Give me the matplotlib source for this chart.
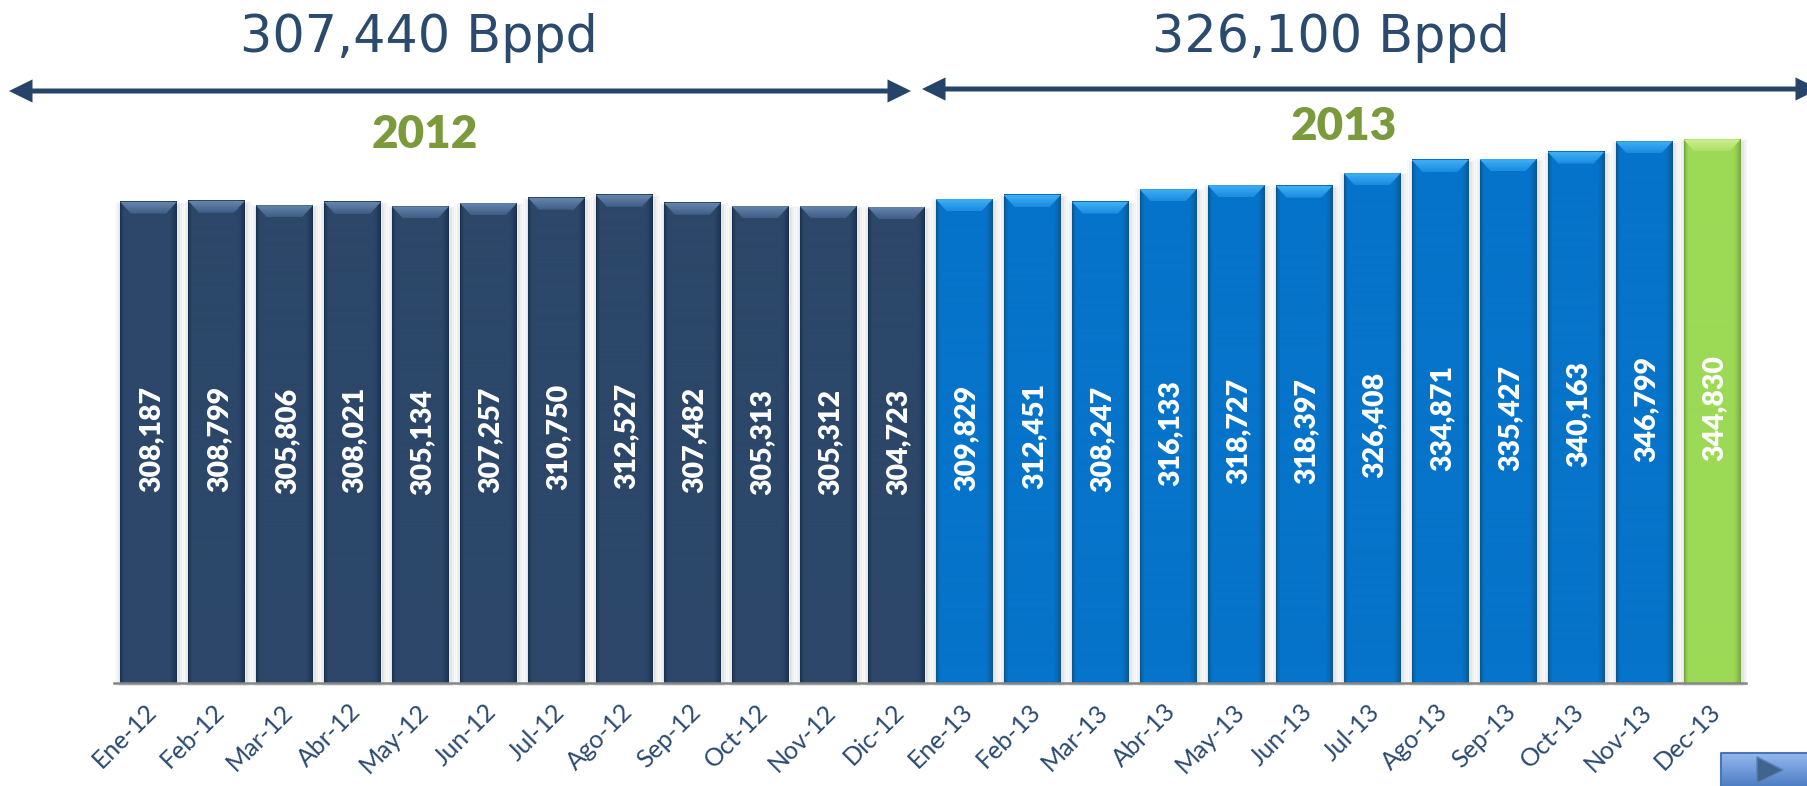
import numpy as np
import matplotlib
matplotlib.use("Agg")
import matplotlib.pyplot as plt
from matplotlib.colors import LinearSegmentedColormap, to_rgb
from matplotlib.patches import Polygon
from matplotlib.transforms import ScaledTranslation

months = ["Ene-12", "Feb-12", "Mar-12", "Abr-12", "May-12", "Jun-12", "Jul-12", "Ago-12",
          "Sep-12", "Oct-12", "Nov-12", "Dic-12", "Ene-13", "Feb-13", "Mar-13", "Abr-13",
          "May-13", "Jun-13", "Jul-13", "Ago-13", "Sep-13", "Oct-13", "Nov-13", "Dec-13"]
labels = [308187, 308799, 305806, 308021, 305134, 307257, 310750, 312527,
          307482, 305313, 305312, 304723, 309829, 312451, 308247, 316133,
          318727, 318397, 326408, 334871, 335427, 340163, 346799, 344830]
# the last bar is drawn taller than its printed label says
heights = labels[:-1] + [348000]
avg_texts = ["307,440 Bppd", "326,100 Bppd"]
year_texts = ["2012", "2013"]

W, H = 1807, 786
navy = "#2A4A6E"
green_txt = "#7B9A3C"
# main, edge, bevel light, bevel mid
style_2012 = ("#2C4769", "#1B3250", "#6484AB", "#3F5F88")
style_2013 = ("#0674CA", "#0A5590", "#3DAEF5", "#1C8DDF")
style_last = ("#9CDA56", "#74A640", "#CDEF8E", "#AEE068")

plt.rcParams["font.family"] = ["Lato", "DejaVu Sans"]
fig = plt.figure(figsize=(W / 100, H / 100), dpi=100, facecolor="white")

# axes box in pixels, y value scale comes out zero based
ax_l, ax_r, ax_b, ax_t = 114, 1746, 683, 120
ax = fig.add_axes([ax_l / W, 1 - ax_b / H, (ax_r - ax_l) / W, (ax_b - ax_t) / H])
x = np.arange(len(months))
pitch = 67.98
bw = 57 / pitch
ymax = (ax_b - ax_t) / 0.001562
xlim = (-34.5 / pitch, len(months) - 1 + 34 / pitch)
ypx = 1 / 0.001562   # data units per pixel
xpx = 1 / pitch      # data units per pixel


def ramp(a, b):
    return LinearSegmentedColormap.from_list("r", [a, b])


for i, (xi, h) in enumerate(zip(x, heights)):
    st = style_last if i == 23 else style_2012 if i < 12 else style_2013
    main, edge, light, mid = st
    # soft shadow
    for grow, al in [(6, 0.03), (4, 0.05), (2, 0.07)]:
        ax.bar(xi + 1 * xpx, h + grow * 0.5 * ypx, bw + grow * 2 * xpx, bottom=-3 * ypx,
               color="#555555", alpha=al, zorder=1, clip_on=False, linewidth=0)
    bars = ax.bar(xi, h, bw, color=main, zorder=2, linewidth=0)
    # horizontal shading towards the sides
    t = np.linspace(0, 1, 57)
    prof = np.clip(np.minimum(t / 0.07, (1 - t) / 0.12), 0, 1) ** 0.7
    c0, c1 = np.array(to_rgb(edge)), np.array(to_rgb(main))
    img = c0[None, None, :] + (c1 - c0)[None, None, :] * prof[None, :, None]
    ax.imshow(img, extent=(xi - bw / 2, xi + bw / 2, -2 * ypx, h), aspect="auto", zorder=3)
    # bevel on top of the bar
    bev_h, bev_in = 12 * ypx, 11 * xpx
    poly = Polygon([(xi - bw / 2, h), (xi + bw / 2, h), (xi + bw / 2 - bev_in, h - bev_h),
                    (xi - bw / 2 + bev_in, h - bev_h)], closed=True, transform=ax.transData,
                   facecolor="none", edgecolor="none")
    ax.add_patch(poly)
    grad = np.linspace(0, 1, 12)[:, None]
    im = ax.imshow(grad, cmap=ramp(light, mid), extent=(xi - bw / 2, xi + bw / 2, h - bev_h, h),
                   aspect="auto", zorder=4, origin="upper")
    im.set_clip_path(poly)
    # value label
    ax.text(xi + 2.5 * xpx, h / 2 + 3 * ypx, f"{labels[i]:,}", rotation=90, color="white",
            ha="center", va="center", fontsize=20.5, fontweight="heavy", zorder=6)

ax.set_xlim(*xlim)
ax.set_ylim(0, ymax)
ax.patch.set_alpha(0)
for s in ["top", "right", "left"]:
    ax.spines[s].set_visible(False)
ax.spines["bottom"].set_color("#868686")
ax.spines["bottom"].set_linewidth(1.8)
ax.spines["bottom"].set_zorder(7)
ax.set_yticks([])
ax.set_xticks(x, months, rotation=45, ha="right", rotation_mode="anchor",
              color=navy, fontsize=18)
ax.tick_params(axis="x", length=0, pad=12)
shift = ScaledTranslation(-4 / 100, 0, fig.dpi_scale_trans)
for lab in ax.get_xticklabels():
    lab.set_transform(lab.get_transform() + shift)

# overlay in pixel coordinates for the header and the button
ov = fig.add_axes([0, 0, 1, 1], zorder=10)
ov.set_xlim(0, W)
ov.set_ylim(H, 0)
ov.axis("off")
ov.patch.set_alpha(0)

ov.text(419, 38, avg_texts[0], color=navy, fontsize=36.5, ha="center", va="center",
        family="DejaVu Sans")
ov.text(1331, 38, avg_texts[1], color=navy, fontsize=36.5, ha="center", va="center",
        family="DejaVu Sans")
ov.text(425, 135, year_texts[0], color=green_txt, fontsize=33, fontweight="heavy",
        ha="center", va="center")
ov.text(1344, 127, year_texts[1], color=green_txt, fontsize=33, fontweight="heavy",
        ha="center", va="center")

for x0, x1, y in [(9, 911, 91), (922, 1819, 89)]:
    ov.annotate("", xy=(x1, y), xytext=(x0, y), annotation_clip=False,
                arrowprops=dict(arrowstyle="<|-|>,head_length=0.65,head_width=0.32", lw=3.6,
                                color="#264468", shrinkA=0, shrinkB=0, mutation_scale=17,
                                joinstyle="miter", capstyle="butt"))

# nav button bottom right
grad = np.linspace(0, 1, 33)[:, None]
ov.imshow(grad, cmap=ramp("#94B8EE", "#4F7FC4"), extent=(1721, W, H, 753), aspect="auto", zorder=1)
ov.plot([1721, 1721, W], [H, 753, 753], color="#4A76B8", lw=1.5, zorder=2)
ov.add_patch(Polygon([(1757, 757), (1783, 770), (1757, 783)], closed=True, facecolor="#41648F",
                     edgecolor="#5C7FB0", lw=1, zorder=3))
ov.set_xlim(0, W)
ov.set_ylim(H, 0)

fig.savefig("out.png", dpi=100, facecolor="white")
